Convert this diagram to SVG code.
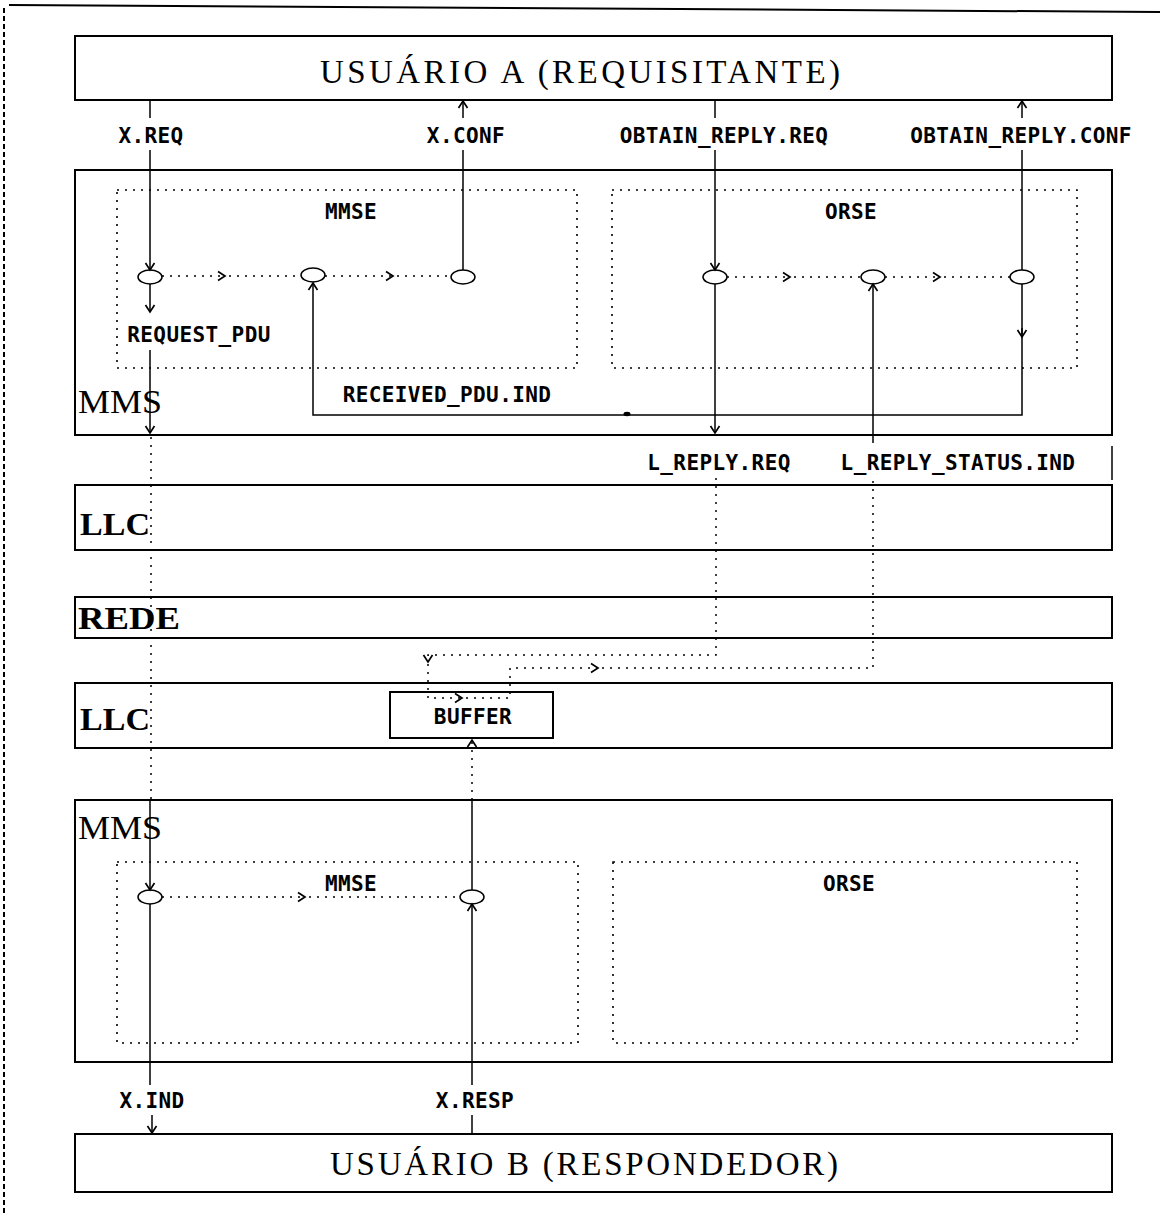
<svg xmlns="http://www.w3.org/2000/svg" width="1160" height="1218" viewBox="0 0 1160 1218">
<style>
.box{fill:#fff;stroke:#000;stroke-width:2}
.dbox{fill:none;stroke:#000;stroke-width:1.6;stroke-dasharray:2 6}
.ln{fill:none;stroke:#000;stroke-width:1.5}
.dl{fill:none;stroke:#000;stroke-width:1.5;stroke-dasharray:2 6}
.ev{fill:#fff;stroke:#000;stroke-width:1.5}
.serif{font-family:"Liberation Serif","DejaVu Serif",serif;fill:#000}
.mono{font-family:"DejaVu Sans Mono","Liberation Mono",monospace;font-weight:bold;font-size:21px;letter-spacing:0.4px;fill:#000}
</style>
<defs>
<marker id="ah" viewBox="-9 -6 11 12" refX="0" refY="0" markerWidth="11" markerHeight="12" markerUnits="userSpaceOnUse" orient="auto">
<path d="M-7,-4.5 L0,0 L-7,4.5" fill="none" stroke="#000" stroke-width="1.7"/>
</marker>
</defs>
<rect width="1160" height="1218" fill="#fff"/>
<g id="frame">
<line x1="4" y1="8" x2="4" y2="1214" stroke="#000" stroke-width="2" stroke-dasharray="5 3"/>
<line x1="9" y1="5" x2="1160" y2="12" stroke="#000" stroke-width="2"/>
</g>
<g id="userA">
<rect class="box" x="75" y="36" width="1037" height="64"/>
<text class="serif" x="580" y="83" font-size="33" text-anchor="middle" textLength="520" lengthAdjust="spacing">USUÁRIO A (REQUISITANTE)</text>
</g>
<g id="mmsA">
<rect class="box" x="75" y="170" width="1037" height="265"/>
<text class="serif" x="78" y="413" font-size="33" textLength="84" lengthAdjust="spacingAndGlyphs">MMS</text>
</g>
<g id="mmseA">
<rect class="dbox" x="117" y="190" width="460" height="178"/>
<text class="mono" x="351" y="219" text-anchor="middle">MMSE</text>
<ellipse class="ev" cx="150" cy="277" rx="12" ry="7"/>
<ellipse class="ev" cx="313" cy="275" rx="12" ry="7"/>
<ellipse class="ev" cx="463" cy="277" rx="12" ry="7"/>
</g>
<g id="orseA">
<rect class="dbox" x="612" y="190" width="465" height="178"/>
<text class="mono" x="851" y="219" text-anchor="middle">ORSE</text>
<ellipse class="ev" cx="715" cy="277" rx="12" ry="7"/>
<ellipse class="ev" cx="873" cy="277" rx="12" ry="7"/>
<ellipse class="ev" cx="1022" cy="277" rx="12" ry="7"/>
</g>
<g id="llc1">
<rect class="box" x="75" y="485" width="1037" height="65"/>
<text class="serif" x="80" y="535" font-size="32" font-weight="bold" textLength="70" lengthAdjust="spacingAndGlyphs">LLC</text>
</g>
<g id="rede">
<rect class="box" x="75" y="597" width="1037" height="41"/>
<text class="serif" x="78" y="629" font-size="32" font-weight="bold" textLength="102" lengthAdjust="spacingAndGlyphs">REDE</text>
</g>
<g id="llc2">
<rect class="box" x="75" y="683" width="1037" height="65"/>
<text class="serif" x="80" y="730" font-size="32" font-weight="bold" textLength="70" lengthAdjust="spacingAndGlyphs">LLC</text>
</g>
<g id="buffer">
<rect class="box" x="390" y="692" width="163" height="46"/>
<text class="mono" x="473" y="724" text-anchor="middle">BUFFER</text>
</g>
<g id="mmsB">
<rect class="box" x="75" y="800" width="1037" height="262"/>
<text class="serif" x="78" y="839" font-size="33" textLength="84" lengthAdjust="spacingAndGlyphs">MMS</text>
</g>
<g id="mmseB">
<rect class="dbox" x="117" y="862" width="461" height="181"/>
<text class="mono" x="351" y="891" text-anchor="middle">MMSE</text>
<ellipse class="ev" cx="150" cy="897" rx="12" ry="7"/>
<ellipse class="ev" cx="472" cy="897" rx="12" ry="7"/>
</g>
<g id="orseB">
<rect class="dbox" x="613" y="862" width="464" height="181"/>
<text class="mono" x="849" y="891" text-anchor="middle">ORSE</text>
</g>
<g id="userB">
<rect class="box" x="75" y="1134" width="1037" height="58"/>
<text class="serif" x="584" y="1175" font-size="33" text-anchor="middle" textLength="508" lengthAdjust="spacing">USUÁRIO B (RESPONDEDOR)</text>
</g>
<g id="connectors">
<path class="ln" d="M150,100 V118"/>
<path class="ln" d="M150,150 V270" marker-end="url(#ah)"/>
<path class="ln" d="M150,284 V312" marker-end="url(#ah)"/>
<path class="ln" d="M150,350 V433" marker-end="url(#ah)"/>
<path class="dl" d="M151,437 V800"/>
<path class="ln" d="M150,800 V890" marker-end="url(#ah)"/>
<path class="ln" d="M150,904 V1085"/>
<path class="ln" d="M152,1115 V1133" marker-end="url(#ah)"/>
<path class="ln" d="M463,270 V150"/>
<path class="ln" d="M463,118 V101" marker-end="url(#ah)"/>
<path class="dl" d="M162,276 H225" marker-end="url(#ah)"/>
<path class="dl" d="M229,276 H301"/>
<path class="dl" d="M325,276 H393" marker-end="url(#ah)"/>
<path class="dl" d="M397,276 H451"/>
<path class="ln" d="M1022,284 V415 H313 V283" marker-end="url(#ah)"/>
<path class="ln" d="M1022,328 V337" marker-end="url(#ah)"/>
<ellipse cx="627" cy="414" rx="3.5" ry="2.2" fill="#000"/>
<path class="ln" d="M715,100 V118"/>
<path class="ln" d="M715,150 V270" marker-end="url(#ah)"/>
<path class="ln" d="M715,284 V433" marker-end="url(#ah)"/>
<path class="dl" d="M716,478 V655 H428 V662" marker-end="url(#ah)"/>
<path class="dl" d="M428,664 V698 H462" marker-end="url(#ah)"/>
<path class="dl" d="M466,698 H510 V668 H598" marker-end="url(#ah)"/>
<path class="dl" d="M602,668 H873 V478"/>
<path class="ln" d="M873,443 V284" marker-end="url(#ah)"/>
<path class="dl" d="M727,277 H790" marker-end="url(#ah)"/>
<path class="dl" d="M794,277 H861"/>
<path class="dl" d="M885,277 H940" marker-end="url(#ah)"/>
<path class="dl" d="M944,277 H1010"/>
<path class="ln" d="M1022,270 V150"/>
<path class="ln" d="M1022,118 V101" marker-end="url(#ah)"/>
<path class="ln" d="M1112,446 V480"/>
<path class="ln" d="M472,1133 V1115"/>
<path class="ln" d="M472,1085 V904" marker-end="url(#ah)"/>
<path class="ln" d="M472,890 V800"/>
<path class="dl" d="M472,800 V740" marker-end="url(#ah)"/>
<path class="dl" d="M162,897 H305" marker-end="url(#ah)"/>
<path class="dl" d="M309,897 H460"/>
</g>
<g id="labels">
<text class="mono" x="151" y="143" text-anchor="middle">X.REQ</text>
<text class="mono" x="466" y="143" text-anchor="middle">X.CONF</text>
<text class="mono" x="724" y="143" text-anchor="middle">OBTAIN_REPLY.REQ</text>
<text class="mono" x="1021" y="143" text-anchor="middle">OBTAIN_REPLY.CONF</text>
<text class="mono" x="199" y="342" text-anchor="middle">REQUEST_PDU</text>
<text class="mono" x="447" y="402" text-anchor="middle">RECEIVED_PDU.IND</text>
<text class="mono" x="719" y="470" text-anchor="middle">L_REPLY.REQ</text>
<text class="mono" x="958" y="470" text-anchor="middle">L_REPLY_STATUS.IND</text>
<text class="mono" x="152" y="1108" text-anchor="middle">X.IND</text>
<text class="mono" x="475" y="1108" text-anchor="middle">X.RESP</text>
</g>
</svg>
